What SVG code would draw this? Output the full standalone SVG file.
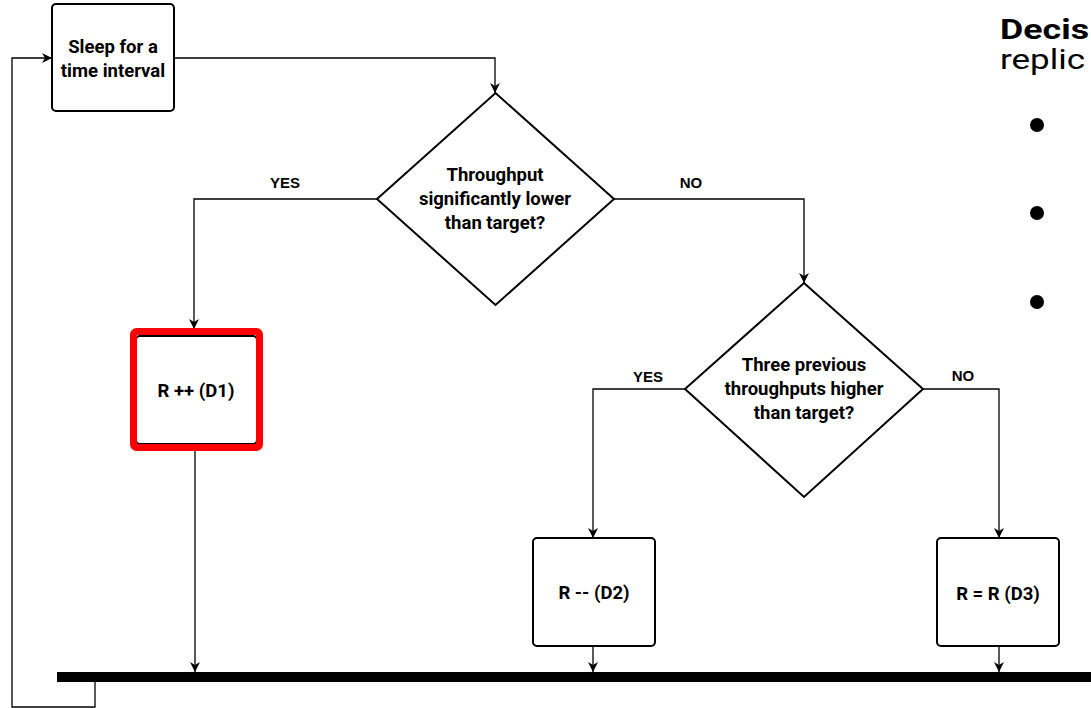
<svg xmlns="http://www.w3.org/2000/svg" width="1091" height="708" viewBox="0 0 1091 708">
<defs>
<style>
.box{fill:#fff;stroke:#000;stroke-width:2}
.dia{fill:#fff;stroke:#000;stroke-width:2}
.lbl{font-family:Roboto,"Liberation Sans",sans-serif;font-weight:bold;font-size:18.5px;fill:#000;text-anchor:middle}
.yn{font-family:"Liberation Sans",Arial,sans-serif;font-weight:bold;font-size:15px;fill:#000;text-anchor:middle}
.con{fill:none;stroke:#000;stroke-width:1.3}
.side{font-family:Roboto,"Liberation Sans",sans-serif;font-size:28px;fill:#000}
</style>
<marker id="ah" viewBox="0 0 10 10" refX="10" refY="5" markerWidth="10" markerHeight="10" markerUnits="userSpaceOnUse" orient="auto">
<path d="M0,0 L10,5 L0,10 L3,5 z" fill="#000"/>
</marker>
</defs>
<rect width="1091" height="708" fill="#fff"/>
<g id="connectors">
<polyline class="con" points="174,58 495,58 495,93" marker-end="url(#ah)"/>
<polyline class="con" points="377,199 194,199 194,329" marker-end="url(#ah)"/>
<polyline class="con" points="614,199 804,199 804,283" marker-end="url(#ah)"/>
<polyline class="con" points="685,389 593,389 593,538" marker-end="url(#ah)"/>
<polyline class="con" points="923,389 999,389 999,538" marker-end="url(#ah)"/>
<polyline class="con" points="195,451 195,672" marker-end="url(#ah)"/>
<polyline class="con" points="593,646 593,672" marker-end="url(#ah)"/>
<polyline class="con" points="999,646 999,672" marker-end="url(#ah)"/>
<polyline class="con" stroke="#444" points="95,682 95,707 12,707 12,58 52,58" marker-end="url(#ah)"/>
</g>
<g id="bar"><rect x="57" y="672" width="1040" height="10" fill="#000"/></g>
<g id="sleep">
<rect class="box" x="52" y="4" width="122" height="107" rx="4"/>
<text class="lbl" x="113" y="53">Sleep for a</text>
<text class="lbl" x="113" y="77">time interval</text>
</g>
<g id="decision1">
<polygon class="dia" points="495.5,93 614,199 495.5,305 377,199"/>
<text class="lbl" x="495" y="181">Throughput</text>
<text class="lbl" x="495" y="205">significantly lower</text>
<text class="lbl" x="495" y="229">than target?</text>
</g>
<g id="label-yes1"><text class="yn" x="285" y="188">YES</text></g>
<g id="label-no1"><text class="yn" x="691" y="188">NO</text></g>
<g id="d1">
<rect class="box" x="136" y="336" width="121" height="108" rx="4"/>
<rect x="133.5" y="331.5" width="126" height="116" rx="3" fill="none" stroke="#ff0000" stroke-width="7"/>
<text class="lbl" x="196" y="397">R ++ (D1)</text>
</g>
<g id="decision2">
<polygon class="dia" points="804,283 923,389 804,497 685,389"/>
<text class="lbl" x="804" y="371">Three previous</text>
<text class="lbl" x="804" y="395">throughputs higher</text>
<text class="lbl" x="804" y="419">than target?</text>
</g>
<g id="label-yes2"><text class="yn" x="648" y="382">YES</text></g>
<g id="label-no2"><text class="yn" x="963" y="381">NO</text></g>
<g id="d2">
<rect class="box" x="533" y="538" width="122" height="108" rx="4"/>
<text class="lbl" x="594" y="599">R -- (D2)</text>
</g>
<g id="d3">
<rect class="box" x="937" y="538" width="122" height="108" rx="4"/>
<text class="lbl" x="998" y="600">R = R (D3)</text>
</g>
<g id="sidetext">
<text class="side" x="1000" y="39" font-weight="bold" textLength="89" lengthAdjust="spacingAndGlyphs">Decis</text>
<text class="side" x="1000" y="69" textLength="85" lengthAdjust="spacingAndGlyphs">replic</text>
<circle cx="1037" cy="125" r="7"/>
<circle cx="1037" cy="213" r="7"/>
<circle cx="1037" cy="302" r="7"/>
</g>
</svg>
